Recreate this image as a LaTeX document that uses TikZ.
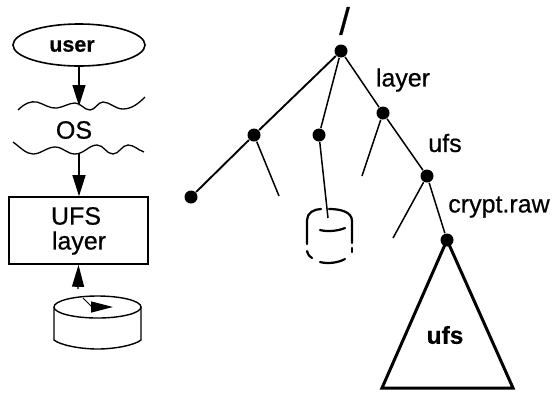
\documentclass[tikz,border=0pt]{standalone}
\usepackage{fontspec}
\setmainfont[FakeBold=0.6]{Liberation Sans}
\usetikzlibrary{shapes.geometric, arrows.meta}

\tikzset{
    dir/.style={circle, fill=black, inner sep=0pt, minimum size=13pt},
    lbl/.style={inner sep=0pt, font=\fontsize{25}{27}\selectfont\addfontfeature{FakeBold=0.6}},
    boldlbl/.style={inner sep=0pt, font=\fontsize{24.5}{27}\selectfont\bfseries},
    wave/.style={-, line width=1.3pt},
    branch/.style={-, line width=1.5pt},
    diskdash/.style={-, line width=2.2pt, line cap=round}
}

\begin{document}
\begin{tikzpicture}[x=1pt, y=-1pt, ->, >={Triangle[length=21pt, width=13pt]}, line width=1.3pt]
    \useasboundingbox (0,0) rectangle (553,392);

    % left side
    \node[ellipse, draw, line width=1.6pt, minimum width=132pt, minimum height=42pt, inner sep=0pt] (user) at (79,45) {};
    \node[boldlbl, font=\fontsize{21.5}{23}\selectfont\bfseries] (usertext) at (72,46) {user};
    \node[lbl] (os) at (74,130) {OS};
    \node[draw, line width=1.6pt, minimum width=139pt, minimum height=67pt, inner sep=0pt] (ufsbox) at (78.5,230.5) {};
    \node[lbl] (ufstext1) at (76,216) {UFS};
    \node[lbl] (ufstext2) at (79,243) {layer};

    \coordinate (wave1) at (79,106);
    \coordinate (wave2) at (79,154);
    \coordinate (base) at (78,289);

    \draw[wave] (18,110) .. controls (25,103) and (31,101) .. (37,102)
        .. controls (44,104) and (50,109) .. (57,108)
        .. controls (64,107) and (69,103) .. (75,103)
        .. controls (81,103) and (84,110) .. (90,110)
        .. controls (95,110) and (98,102) .. (103,102)
        .. controls (110,102) and (115,109) .. (123,109)
        .. controls (132,109) and (139,103) .. (145,97);
    \draw[wave] (13,142) .. controls (20,147) and (26,154) .. (33,154)
        .. controls (41,154) and (47,147) .. (55,147)
        .. controls (63,147) and (67,154) .. (75,154)
        .. controls (84,154) and (89,145) .. (97,145)
        .. controls (104,145) and (106,154) .. (113,154)
        .. controls (119,154) and (122,145) .. (128,145)
        .. controls (134,145) and (138,150) .. (144,152);

    \draw (user.south) -- (wave1);
    \draw (wave2) -- (ufsbox.north -| wave2);
    \draw[{Triangle[length=22pt, width=12pt]}-] (ufsbox.south) -- (base);

    % disk
    \draw[-, line width=1.4pt] (97.5,307) ellipse (43.5pt and 11pt);
    \draw[-, line width=1.4pt] (54,307) -- (54,340) .. controls (60,345) and (80,349) .. (97.5,349)
        .. controls (115,349) and (135,345) .. (141,340) -- (141,307);
    \coordinate (needle1) at (83,298);
    \coordinate (needle2) at (92,307);
    \coordinate (needle3) at (113,307);
    \draw[-, line width=1pt] (needle1) -- (needle2);
    \draw[>={Triangle[length=22pt, width=11pt]}] (needle2) -- (needle3);

    % tree
    \node[dir] (root) at (341,51) {};
    \node[dir] (1) at (254,135) {};
    \node[dir] (2) at (191,197) {};
    \node[dir] (3) at (319,135) {};
    \node[dir] (4) at (383,113) {};
    \node[dir] (5) at (427,176) {};
    \node[dir] (6) at (447,240) {};

    \coordinate (stub1) at (279,196);
    \coordinate (stub2) at (362,176);
    \coordinate (stub3) at (393,238);
    \coordinate (cyl) at (328,218);
    \coordinate (tri1) at (382,388);
    \coordinate (tri2) at (513,388);

    \draw[branch, line width=1.9pt] (root) -- (1);
    \draw[branch, line width=1.9pt] (1) -- (2);
    \draw[branch] (root) -- (3);
    \draw[branch] (root) -- (4);
    \draw[branch] (1) -- (stub1);
    \draw[branch] (3) -- (cyl);
    \draw[branch] (4) -- (stub2);
    \draw[branch] (4) -- (5);
    \draw[branch] (5) -- (stub3);
    \draw[branch] (5) -- (6);
    \draw[-, line width=3pt, line join=miter] (6.center) -- (tri1) -- (tri2) -- cycle;

    \node[inner sep=0pt, font=\fontsize{38}{40}\selectfont] (slash) at (344.5,21) {/};
    \node[lbl] (layer) at (403,80) {layer};
    \node[lbl] (ufs) at (445,143) {ufs};
    \node[lbl] (crypt) at (499,207) {crypt.raw};
    \node[boldlbl] (ufsfs) at (445,335) {ufs};

    % dashed cylinder
    \draw[diskdash] (307,244) -- (307,220) .. controls (307,213) and (314,209) .. (321,209);
    \draw[diskdash] (329,209) .. controls (341,209) and (352,212) .. (352,221) -- (352,243);
    \draw[diskdash] (320,230) .. controls (327,232) and (338,231) .. (345,228);
    \draw[diskdash] (307,251) .. controls (308,255) and (310,257) .. (312,258);
    \draw[diskdash] (320,262) .. controls (327,264) and (338,263) .. (345,259);
    \draw[diskdash] (352,248) -- (352,252);
\end{tikzpicture}
\end{document}
